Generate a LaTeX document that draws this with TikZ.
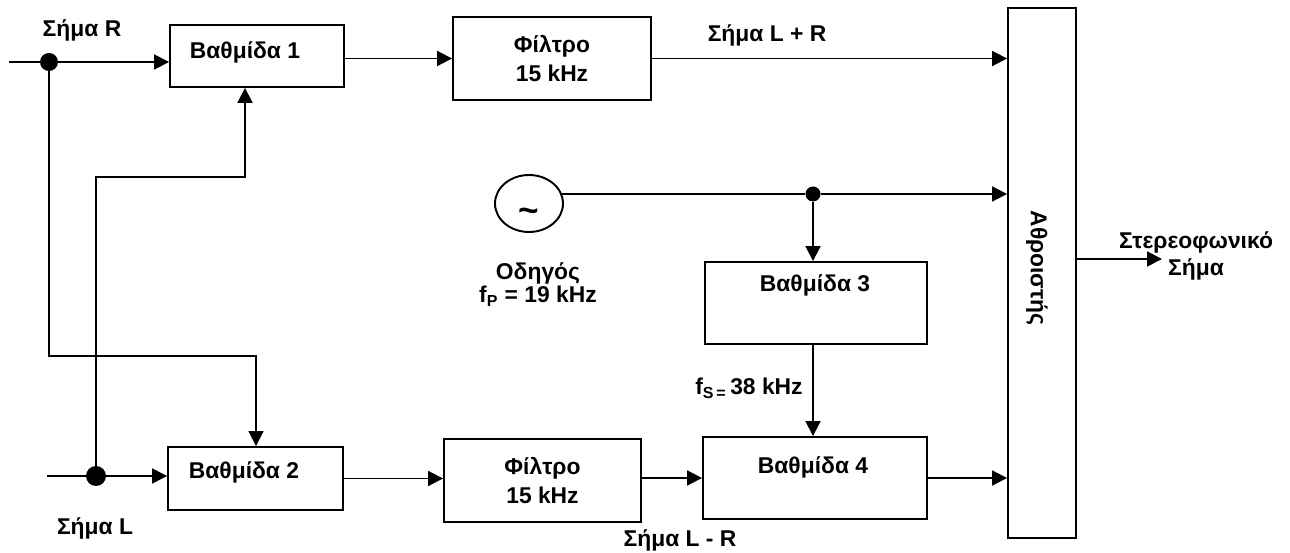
\documentclass[tikz,border=0pt]{standalone}
\usepackage{fontspec}
\setmainfont{Liberation Sans}
\usetikzlibrary{arrows.meta,shapes.geometric,positioning,calc}
\tikzset{%
  blk/.style={rectangle,draw,line width=1.1pt,inner sep=0pt,align=center,
    font=\fontsize{13}{16.5}\selectfont\bfseries},
  txt/.style={inner sep=0pt,align=center,font=\fontsize{13}{16}\selectfont\bfseries},
  wire/.style={line width=1.1pt},
  sig/.style={wire,-{Triangle[length=8.5pt,width=8.5pt]}},
  jdot/.style={circle,fill,inner sep=0pt,minimum size=#1}
}

\begin{document}
\begin{tikzpicture}[x=0.02cm,y=-0.02cm]
% ---- frame (1 unit = 1 px of the drawing) ----
\useasboundingbox (0,0) rectangle (1290,553);

% ===================== blocks =====================
\node[blk,minimum width=3.48cm,minimum height=1.24cm] (b1) at (257,56) {};
\node[blk,minimum width=3.96cm,minimum height=1.66cm] (f1) at (552,58.5) {Φίλτρο\\15 kHz};
\node[blk,minimum width=3.50cm,minimum height=1.26cm] (b2) at (255.5,478.5) {};
\node[blk,minimum width=3.94cm,minimum height=1.66cm] (f2) at (542.5,480.5) {Φίλτρο\\15 kHz};
\node[blk,minimum width=4.44cm,minimum height=1.64cm] (b3) at (816,303) {};
\node[blk,minimum width=4.48cm,minimum height=1.64cm] (b4) at (815,478) {};
\node[blk,minimum width=1.36cm,minimum height=10.6cm] (add) at (1042,273) {};
\node[blk,ellipse,minimum width=1.36cm,minimum height=1.14cm] (osc) at (529,203.5) {};

% ---- block titles ----
\node[txt] (b1t) at (245,52)  {Βαθμίδα 1};
\node[txt] (b2t) at (244,472) {Βαθμίδα 2};
\node[txt] (b3t) at (815,285) {Βαθμίδα 3};
\node[txt] (b4t) at (813,467) {Βαθμίδα 4};
\node[txt,rotate=-90] (addt) at (1037,268) {Αθροιστής};
\node[txt,font=\fontsize{20}{20}\selectfont\bfseries] (tld) at (529,215) {\textasciitilde};

% ===================== signal labels =====================
\node[txt] (lR)   at (82,30)   {Σήμα R};
\node[txt] (lL)   at (95,528)  {Σήμα L};
\node[txt] (lLpR) at (767,35)  {Σήμα L + R};
\node[txt] (lLmR) at (680,540) {Σήμα L - R};
\node[txt,font=\fontsize{13}{13.1}\selectfont\bfseries] (lP) at (538,284.5)
  {Οδηγός\\f\textsubscript{P} = 19 kHz};
\node[txt,anchor=east] (lS) at (803,388) {f\textsubscript{S\,=}\,38 kHz};
\node[txt,font=\fontsize{13}{15.4}\selectfont\bfseries] (lOut) at (1196,255.5)
  {Στερεοφωνικό\\Σήμα};

% ---- junctions and bends ----
\coordinate (inR) at (9,62);
\coordinate (inL) at (47,476);
\node[jdot=0.36cm] (dotR) at (49,62) {};
\node[jdot=0.40cm] (dotL) at (96,476) {};
\node[jdot=0.30cm] (jP)   at (813,194) {};
\coordinate (kR)  at (256,356);
\coordinate (kL)  at (245,177);
\coordinate (out) at (1162,259);

% ===================== connectors =====================
% upper path (L + R)
\draw[wire] (inR) -- (dotR);
\draw[sig] (dotR) -- (dotR -| b1.west);
\draw[sig] (b1.east |- f1.west) -- (f1.west);
\draw[sig] (f1.east) -- (f1.east -| add.west);
% pilot
\draw[wire] (osc.16) -- (jP);
\draw[sig] (jP) -- (jP -| add.west);
\draw[sig] (jP) -- (jP |- b3.north);
\draw[sig] (b3.south -| jP) -- (b4.north -| jP);
% lower path (L - R)
\draw[wire] (inL) -- (dotL);
\draw[sig] (dotL) -- (dotL -| b2.west);
\draw[sig] (b2.east) -- (b2.east -| f2.west);
\draw[sig] (f2.east |- b4.west) -- (b4.west);
\draw[sig] (b4.east) -- (b4.east -| add.west);
% cross feeds
\draw[sig] (dotR) |- (kR) -- (kR |- b2.north);
\draw[sig] (dotL) |- (kL) -- (kL |- b1.south);
% output
\draw[sig] (add.east |- out) -- (out);

\end{tikzpicture}
\end{document}
